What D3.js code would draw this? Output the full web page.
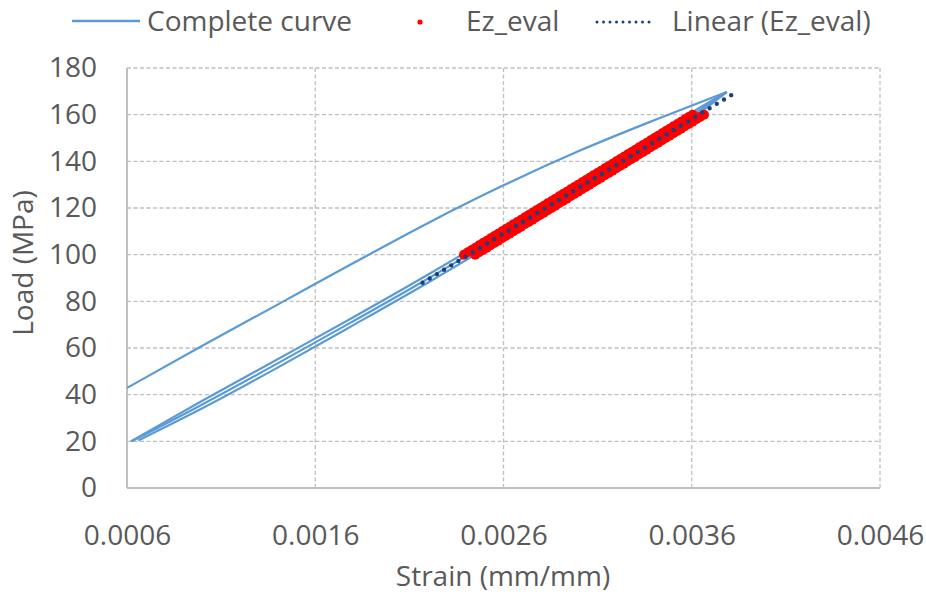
<!DOCTYPE html>
<html>
<head>
<meta charset="utf-8">
<script src="https://cdn.jsdelivr.net/npm/d3@7"></script>
<style>
  body { margin: 0; background: #fff; }
  text { font-family: "Open Sans", sans-serif; fill: #595959; }
</style>
</head>
<body>
<script>
// Complete curve, one array pair per branch (unloading, then three loading/unloading passes)
var upperStrain = [0.0006, 0.0010, 0.0014, 0.0018, 0.0022, 0.0026, 0.0030, 0.0034, 0.003786];
var upperLoad   = [42.9, 61.0, 78.6, 96.3, 113.6, 129.7, 144.4, 157.6, 169.7];

var lowerStrainA = [0.00062, 0.0010, 0.0014, 0.0018, 0.0022, 0.0026, 0.0030, 0.0034, 0.0036, 0.003786];
var lowerLoadA   = [20.0, 37.4, 55.2, 73.1, 91.5, 110.7, 130.5, 150.5, 160.9, 169.7];
var lowerStrainB = [0.000625, 0.0010, 0.0014, 0.0018, 0.0022, 0.0026, 0.0030, 0.0034, 0.0036, 0.003786];
var lowerLoadB   = [20.0, 35.8, 53.4, 71.4, 89.8, 109.0, 128.8, 148.9, 159.6, 169.7];
var lowerStrainC = [0.00066, 0.0010, 0.0014, 0.0018, 0.0022, 0.0026, 0.0030, 0.0034, 0.0036, 0.003786];
var lowerLoadC   = [20.4, 34.2, 51.6, 69.7, 88.1, 107.3, 127.1, 147.3, 158.3, 169.7];

// Ez_eval points (loading data between 100 and 160 MPa, two passes)
var evalLoad = [100, 101, 102, 103, 104, 105, 106, 107, 108, 109, 110, 111, 112, 113, 114, 115,
                116, 117, 118, 119, 120, 121, 122, 123, 124, 125, 126, 127, 128, 129, 130, 131,
                132, 133, 134, 135, 136, 137, 138, 139, 140, 141, 142, 143, 144, 145, 146, 147,
                148, 149, 150, 151, 152, 153, 154, 155, 156, 157, 158, 159, 160];
var evalStrainA = [0.002390, 0.002410, 0.002431, 0.002451, 0.002471, 0.002491, 0.002512, 0.002532,
                   0.002552, 0.002572, 0.002593, 0.002613, 0.002633, 0.002653, 0.002674, 0.002694,
                   0.002714, 0.002734, 0.002754, 0.002775, 0.002795, 0.002815, 0.002835, 0.002856,
                   0.002876, 0.002896, 0.002916, 0.002937, 0.002957, 0.002977, 0.002997, 0.003018,
                   0.003038, 0.003058, 0.003078, 0.003099, 0.003119, 0.003139, 0.003159, 0.003180,
                   0.003200, 0.003220, 0.003240, 0.003260, 0.003281, 0.003301, 0.003321, 0.003341,
                   0.003362, 0.003382, 0.003402, 0.003422, 0.003443, 0.003463, 0.003483, 0.003503,
                   0.003524, 0.003544, 0.003564, 0.003584, 0.003605];
var evalStrainC = [0.002450, 0.002470, 0.002491, 0.002511, 0.002531, 0.002551, 0.002572, 0.002592,
                   0.002612, 0.002632, 0.002653, 0.002673, 0.002693, 0.002713, 0.002734, 0.002754,
                   0.002774, 0.002794, 0.002814, 0.002835, 0.002855, 0.002875, 0.002895, 0.002916,
                   0.002936, 0.002956, 0.002976, 0.002997, 0.003017, 0.003037, 0.003057, 0.003078,
                   0.003098, 0.003118, 0.003138, 0.003159, 0.003179, 0.003199, 0.003219, 0.003240,
                   0.003260, 0.003280, 0.003300, 0.003320, 0.003341, 0.003361, 0.003381, 0.003401,
                   0.003422, 0.003442, 0.003462, 0.003482, 0.003503, 0.003523, 0.003543, 0.003563,
                   0.003584, 0.003604, 0.003624, 0.003644, 0.003665];

// trendline forecast range
var trendRange = [0.00217, 0.00383];

var xTicks = [0.0006, 0.0016, 0.0026, 0.0036, 0.0046];
var yTicks = [0, 20, 40, 60, 80, 100, 120, 140, 160, 180];

var margin = { top: 68, right: 46, bottom: 106, left: 127 },
    width = 926 - margin.left - margin.right,
    height = 594 - margin.top - margin.bottom;

var svg = d3.select("body").append("svg")
    .attr("width", 926)
    .attr("height", 594);

var g = svg.append("g")
    .attr("transform", "translate(" + margin.left + "," + margin.top + ")");

var xScale = d3.scaleLinear().domain([0.0006, 0.0046]).range([0, width]);
var yScale = d3.scaleLinear().domain([0, 180]).range([height, 0]);

svg.append("clipPath").attr("id", "plotClip")
    .append("rect")
    .attr("width", width)
    .attr("height", height);

// gridlines
g.append("g").selectAll("line")
    .data(yTicks.slice(1))
    .enter().append("line")
    .attr("x1", 0).attr("x2", width)
    .attr("y1", function (d) { return yScale(d); })
    .attr("y2", function (d) { return yScale(d); })
    .attr("stroke", "#bfbfbf")
    .attr("stroke-width", 1.3)
    .attr("stroke-dasharray", "4,2.5");

g.append("g").selectAll("line")
    .data(xTicks.slice(1))
    .enter().append("line")
    .attr("y1", 0).attr("y2", height)
    .attr("x1", function (d) { return xScale(d); })
    .attr("x2", function (d) { return xScale(d); })
    .attr("stroke", "#bfbfbf")
    .attr("stroke-width", 1.3)
    .attr("stroke-dasharray", "4,2.5");

// axis lines
g.append("line")
    .attr("x1", 0).attr("x2", 0).attr("y1", 0).attr("y2", height)
    .attr("stroke", "#bfbfbf").attr("stroke-width", 2);
g.append("line")
    .attr("x1", 0).attr("x2", width).attr("y1", height).attr("y2", height)
    .attr("stroke", "#bfbfbf").attr("stroke-width", 2);

var xAxis = d3.axisBottom(xScale).tickValues(xTicks).tickFormat(d3.format(".4f")).tickSize(0).tickPadding(37);
var yAxis = d3.axisLeft(yScale).tickValues(yTicks).tickSize(0).tickPadding(30);

var xg = g.append("g").attr("transform", "translate(0," + height + ")").call(xAxis);
var yg = g.append("g").call(yAxis);
[xg, yg].forEach(function (a) {
    a.select(".domain").remove();
    a.selectAll("text")
        .style("font-family", "'Open Sans', sans-serif")
        .style("font-size", "28px")
        .attr("fill", "#595959");
});

// complete curve
var line = d3.line()
    .x(function (d) { return xScale(d[0]); })
    .y(function (d) { return yScale(d[1]); })
    .curve(d3.curveMonotoneX);

var branches = [
    [upperStrain, upperLoad],
    [lowerStrainA, lowerLoadA],
    [lowerStrainB, lowerLoadB],
    [lowerStrainC, lowerLoadC]
];

g.append("g").attr("clip-path", "url(#plotClip)")
    .selectAll("path")
    .data(branches.map(function (b) { return d3.zip(b[0], b[1]); }))
    .enter().append("path")
    .attr("d", line)
    .attr("fill", "none")
    .attr("stroke", "#5b9bd5")
    .attr("stroke-width", 2.2);

// Ez_eval points
var evalPts = [];
[evalStrainA, evalStrainC].forEach(function (s) {
    evalLoad.forEach(function (l, i) { evalPts.push([s[i], l]); });
});

g.append("g").selectAll("circle")
    .data(evalPts)
    .enter().append("circle")
    .attr("cx", function (d) { return xScale(d[0]); })
    .attr("cy", function (d) { return yScale(d[1]); })
    .attr("r", 5)
    .attr("fill", "#ff0000");

// linear trendline (least squares over Ez_eval)
var mx = d3.mean(evalPts, function (d) { return d[0]; }),
    my = d3.mean(evalPts, function (d) { return d[1]; });
var sxy = d3.sum(evalPts, function (d) { return (d[0] - mx) * (d[1] - my); }),
    sxx = d3.sum(evalPts, function (d) { return (d[0] - mx) * (d[0] - mx); });
var slope = sxy / sxx, intercept = my - slope * mx;

g.append("path")
    .datum(trendRange.map(function (s) { return [s, intercept + slope * s]; }))
    .attr("d", d3.line()
        .x(function (d) { return xScale(d[0]); })
        .y(function (d) { return yScale(d[1]); }))
    .attr("fill", "none")
    .attr("stroke", "#1f3f7a")
    .attr("stroke-width", 4.4)
    .attr("stroke-linecap", "round")
    .attr("stroke-dasharray", "0,8.4");

// axis titles
svg.append("text")
    .attr("x", 503).attr("y", 586)
    .attr("text-anchor", "middle")
    .style("font-size", "28px")
    .text("Strain (mm/mm)");

svg.append("text")
    .attr("transform", "translate(33,263) rotate(-90)")
    .attr("text-anchor", "middle")
    .style("font-size", "28px")
    .text("Load (MPa)");

// legend
var legend = svg.append("g");
legend.append("line")
    .attr("x1", 72).attr("x2", 140).attr("y1", 21).attr("y2", 21)
    .attr("stroke", "#5b9bd5").attr("stroke-width", 2.5);
legend.append("text").attr("x", 147).attr("y", 31).style("font-size", "28px").text("Complete curve");
legend.append("circle").attr("cx", 420).attr("cy", 22).attr("r", 2.6).attr("fill", "#ff0000");
legend.append("text").attr("x", 466).attr("y", 31).style("font-size", "28px").text("Ez_eval");
legend.append("line")
    .attr("x1", 597).attr("x2", 650).attr("y1", 22).attr("y2", 22)
    .attr("stroke", "#1f3f7a").attr("stroke-width", 3)
    .attr("stroke-linecap", "round").attr("stroke-dasharray", "0,6.5");
legend.append("text").attr("x", 672).attr("y", 31).style("font-size", "28px").text("Linear (Ez_eval)");
</script>
</body>
</html>
